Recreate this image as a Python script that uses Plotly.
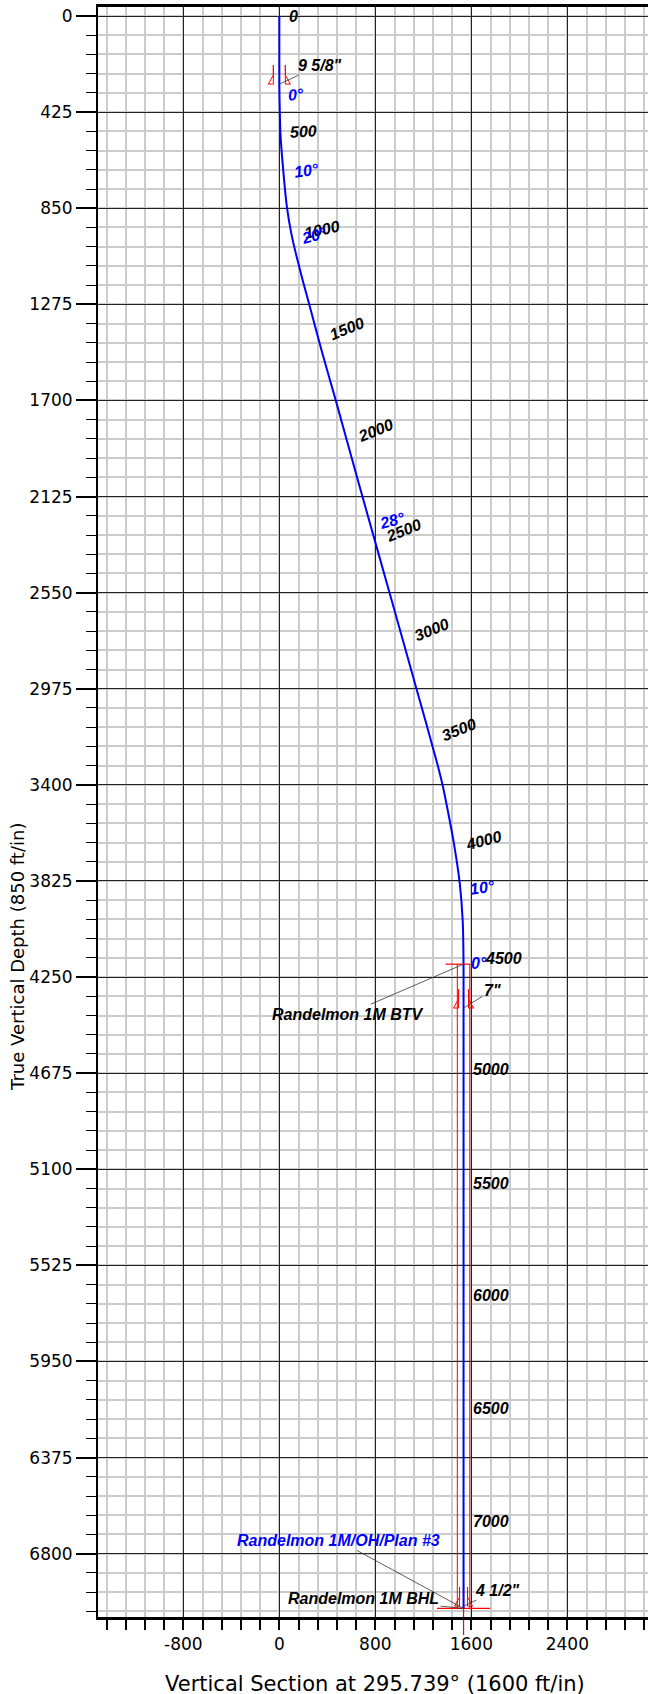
import plotly.graph_objects as go

# ---------------- data ----------------
# Wellpath: vertical section (ft) vs true vertical depth (ft)
wp_vs = [0, 0, 2, 9, 30, 63, 100, 145, 195, 255, 352, 472, 655, 920, 1145,
         1310, 1362, 1410, 1456, 1503, 1528, 1535, 1535]
wp_tvd = [0, 300, 372, 519, 667, 844, 962, 1066, 1169, 1287, 1479, 1703, 2054,
          2554, 2979, 3294, 3405, 3531, 3663, 3833, 4002, 4193, 7042]

# Measured-depth labels along the path
md_text = ["0", "500", "1000", "1500", "2000", "2500", "3000", "3500",
           "4000", "4500", "5000", "5500", "6000", "6500", "7000"]
md_vs = [117, 200, 358, 567, 800, 1033, 1275, 1500, 1700, 1867,
         1767, 1767, 1767, 1767, 1767]
md_tvd = [0, 509, 942, 1380, 1831, 2273, 2715, 3153, 3644, 4170,
          4657, 5161, 5656, 6156, 6656]
md_angle = [0, -3, -12, -22, -22, -22, -22, -22, -15, 0, 0, 0, 0, 0, 0]

# Inclination labels
inc_text = ["0°", "10°", "20°", "28°", "10°", "0°"]
inc_vs = [142, 225, 292, 942, 1692, 1667]
inc_tvd = [349, 681, 969, 2229, 3856, 4188]
inc_angle = [-5, -8, -15, -15, -8, 0]

# Casing shoes
casing_names = ['9 5/8"', '7"', '4 1/2"']
casing_vs = [0, 1535, 1535]
casing_tvd = [301, 4387, 7032]

# Targets
target_names = ["Randelmon 1M BTV", "Randelmon 1M BHL"]
target_vs = [1535, 1535]
target_tvd = [4193, 7042]
plan_name = "Randelmon 1M/OH/Plan #3"

x_ticks = [-800, 0, 800, 1600, 2400]
y_ticks = [0, 425, 850, 1275, 1700, 2125, 2550, 2975, 3400, 3825, 4250,
           4675, 5100, 5525, 5950, 6375, 6800]
x_minor, y_minor = 160, 85

# ---------------- styling ----------------
BLUE = "#0000ff"
RED = "#ff0000"
LBL_FONT = dict(family="Liberation Sans", size=16, color="black",
                weight="bold", style="italic")
TICK_FONT = dict(family="DejaVu Sans", size=17, color="black")

fig = go.Figure()

# target box side lines
tgt_half = 52
fig.add_trace(go.Scatter(
    x=[target_vs[0] - tgt_half, target_vs[1] - tgt_half, None,
       target_vs[0] + tgt_half, target_vs[1] + tgt_half],
    y=[target_tvd[0], target_tvd[1], None, target_tvd[0], target_tvd[1]],
    mode="lines", line=dict(color=RED, width=1),
    hoverinfo="skip", showlegend=False))

# BHL target cross marker
fig.add_trace(go.Scatter(
    x=target_vs[1:], y=target_tvd[1:], mode="markers",
    marker=dict(symbol="cross-thin", size=38, color=RED,
                line=dict(color=RED, width=1.2)),
    cliponaxis=False, hoverinfo="skip", showlegend=False))

# wellpath
fig.add_trace(go.Scatter(
    x=wp_vs, y=wp_tvd, mode="lines",
    line=dict(color=BLUE, width=2, shape="spline", smoothing=0.6),
    hoverinfo="skip", showlegend=False))

shapes = []
# BTV target marker (horizontal tick)
shapes.append(dict(type="path", xref="x", yref="y", xsizemode="pixel",
                   ysizemode="pixel", xanchor=target_vs[0], yanchor=target_tvd[0],
                   path="M-18,0 L7,0", line=dict(color=RED, width=1.2)))

# casing shoe symbols
casing_half_px = [6, 5, 4]
for cvs, ctvd, h in zip(casing_vs, casing_tvd, casing_half_px):
    p = (f"M{-h},19 L{-h},0 L{-h-5},0 L{-h},9 Z "
         f"M{h},19 L{h},0 L{h+5},0 L{h},9 Z")
    shapes.append(dict(type="path", xref="x", yref="y", xsizemode="pixel",
                       ysizemode="pixel", xanchor=cvs, yanchor=ctvd,
                       path=p, line=dict(color=RED, width=1)))

annotations = []
for t, xv, yv, a in zip(md_text, md_vs, md_tvd, md_angle):
    annotations.append(dict(x=xv, y=yv, xref="x", yref="y", text=t,
                            showarrow=False, textangle=a, font=LBL_FONT,
                            xanchor="center", yanchor="middle"))
for t, xv, yv, a in zip(inc_text, inc_vs, inc_tvd, inc_angle):
    annotations.append(dict(x=xv, y=yv, xref="x", yref="y", text=t,
                            showarrow=False, textangle=a,
                            font=dict(LBL_FONT, color=BLUE),
                            xanchor="center", yanchor="middle"))

casing_offsets = [(41, -19), (29, -18), (34, -16)]
for name, cvs, ctvd, (ax, ay) in zip(casing_names, casing_vs, casing_tvd, casing_offsets):
    annotations.append(dict(x=cvs, y=ctvd, xref="x", yref="y", text=name,
                            showarrow=True, arrowhead=0, arrowwidth=0.8,
                            arrowcolor="#333333", ax=ax, ay=ay, standoff=0,
                            font=LBL_FONT))

target_offsets = [(-116, 50), (-100, -10)]
for name, tvs, ttvd, (ax, ay) in zip(target_names, target_vs, target_tvd, target_offsets):
    annotations.append(dict(x=tvs, y=ttvd, xref="x", yref="y", text=name,
                            showarrow=True, arrowhead=0, arrowwidth=0.8,
                            arrowcolor="#333333", ax=ax, ay=ay, standoff=0,
                            font=LBL_FONT))
annotations.append(dict(x=wp_vs[-1], y=wp_tvd[-1], xref="x", yref="y",
                        text=plan_name, showarrow=True, arrowhead=0,
                        arrowwidth=0.8, arrowcolor="#333333", ax=-125, ay=-68,
                        standoff=0, font=dict(LBL_FONT, color=BLUE)))

# axis titles
annotations.append(dict(xref="paper", yref="paper", x=0.5036, y=-0.0415,
                        text="Vertical Section at 295.739° (1600 ft/in)",
                        showarrow=False, xanchor="center", yanchor="middle",
                        font=dict(family="DejaVu Sans", size=21, color="black")))
annotations.append(dict(xref="paper", yref="paper", x=-0.1455, y=0.41,
                        text="True Vertical Depth (850 ft/in)", textangle=-90,
                        showarrow=False, xanchor="center", yanchor="middle",
                        font=dict(family="DejaVu Sans", size=18, color="black")))

fig.update_layout(
    width=648, height=1694,
    margin=dict(l=98, r=0, t=7, b=77, pad=0),
    paper_bgcolor="white", plot_bgcolor="white",
    shapes=shapes, annotations=annotations, showlegend=False,
    xaxis=dict(
        range=[-1511, 3072], tickmode="array", tickvals=x_ticks,
        ticktext=[str(v) for v in x_ticks],
        automargin=False,
        showgrid=True, gridcolor="#222222", gridwidth=1,
        zeroline=False, showline=True, linecolor="black", linewidth=2.5,
        mirror=True, ticks="outside", ticklen=10, tickwidth=1.5,
        tickcolor="black", tickfont=TICK_FONT,
        minor=dict(tick0=0, dtick=x_minor, showgrid=True, gridcolor="#cccccc",
                   gridwidth=1.5, ticks="outside", ticklen=10, tickwidth=1.5,
                   tickcolor="black"),
    ),
    yaxis=dict(
        range=[7080, -40], tickmode="array", tickvals=y_ticks,
        ticktext=[str(v) for v in y_ticks],
        automargin=False,
        showgrid=True, gridcolor="#222222", gridwidth=1,
        zeroline=False, showline=True, linecolor="black", linewidth=2,
        ticks="outside", ticklen=20, tickwidth=2, tickcolor="black",
        tickfont=TICK_FONT,
        minor=dict(tick0=0, dtick=y_minor, showgrid=True, gridcolor="#cccccc",
                   gridwidth=1.5, ticks="outside", ticklen=10, tickwidth=1.2,
                   tickcolor="black"),
    ),
)

fig.write_html("out.html", config={"displayModeBar": False},
               post_script="document.body.style.margin='0';document.body.style.padding='0';")
